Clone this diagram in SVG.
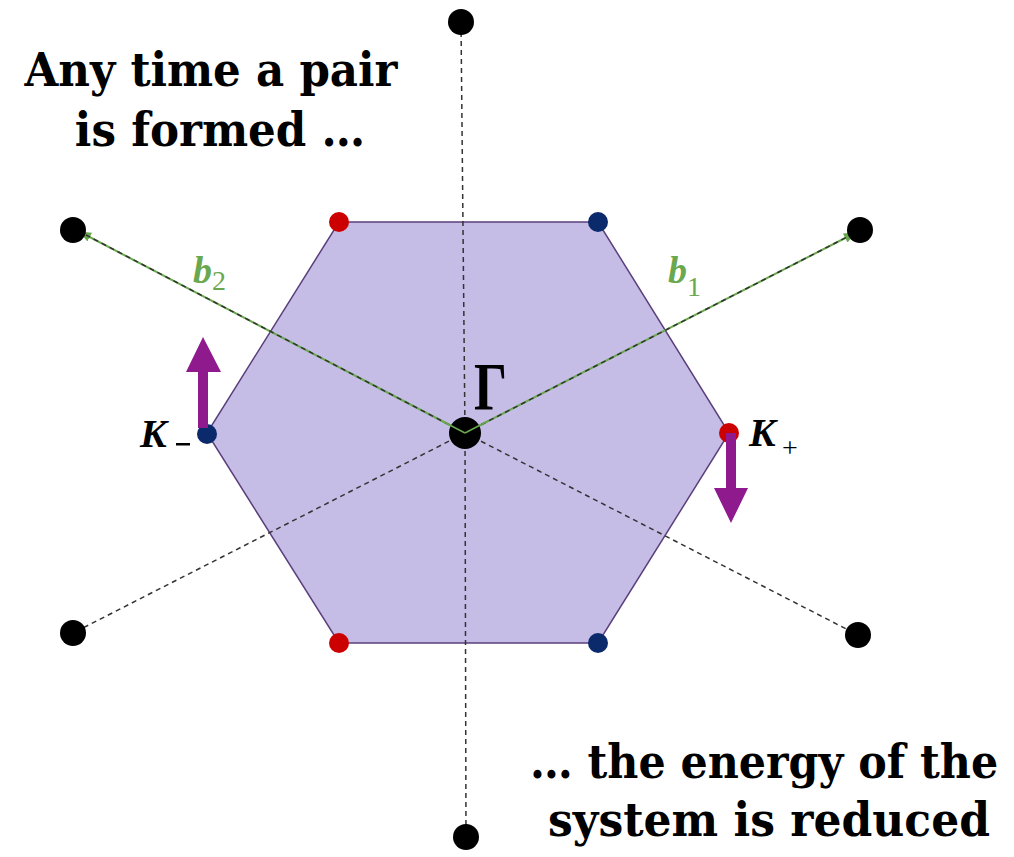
<svg xmlns="http://www.w3.org/2000/svg" width="1014" height="857" viewBox="0 0 1014 857">
<style>
.big{font-family:"DejaVu Serif","Liberation Serif",serif;font-weight:bold;font-size:46px;fill:#000}
.dash{stroke:#333;stroke-width:1.5;stroke-dasharray:5,4;fill:none}
.vec{stroke:#6aa84f;stroke-width:2;fill:none}
.lat{fill:#000}
.lab{font-family:"Liberation Serif",serif;font-weight:bold;font-style:italic}
</style>
<defs>
<marker id="gh" markerWidth="12" markerHeight="10" refX="11" refY="5" orient="auto" markerUnits="userSpaceOnUse">
<path d="M0,0 L12,5 L0,10 z" fill="#6aa84f"/>
</marker>
</defs>
<rect width="1014" height="857" fill="#fff"/>
<g id="zone">
<polygon points="339,222 598,222 729,433 598,643 339,643 207,433" fill="#c5bde6" stroke="#5b3f7c" stroke-width="1.5"/>
</g>
<g id="connectors">
<line class="dash" x1="465" y1="433" x2="461" y2="22"/>
<line class="dash" x1="465" y1="433" x2="466" y2="837"/>
<line class="dash" x1="465" y1="433" x2="73" y2="633"/>
<line class="dash" x1="465" y1="433" x2="858" y2="635"/>
<line class="vec" x1="465" y1="433" x2="80" y2="232" marker-end="url(#gh)"/>
<line class="vec" x1="465" y1="433" x2="855" y2="233" marker-end="url(#gh)"/>
<line class="dash" x1="465" y1="433" x2="86" y2="235" stroke-width="1"/>
<line class="dash" x1="465" y1="433" x2="849" y2="236" stroke-width="1"/>
</g>
<g id="lattice">
<circle class="lat" cx="461" cy="22" r="13"/>
<circle class="lat" cx="466" cy="837" r="13"/>
<circle class="lat" cx="73" cy="230" r="13"/>
<circle class="lat" cx="860" cy="230" r="13"/>
<circle class="lat" cx="73" cy="633" r="13"/>
<circle class="lat" cx="858" cy="635" r="13"/>
</g>
<g id="gamma">
<circle cx="465" cy="433" r="16" fill="#000"/>
<line x1="465" y1="433" x2="442" y2="421" stroke="#6aa84f" stroke-width="1.5"/>
<line x1="465" y1="433" x2="488" y2="421" stroke="#6aa84f" stroke-width="1.5"/>
<text x="474" y="409" font-family="Liberation Serif,serif" font-weight="bold" font-size="68" textLength="33" lengthAdjust="spacingAndGlyphs">Γ</text>
</g>
<g id="corners">
<circle cx="339" cy="222" r="10" fill="#cc0000"/>
<circle cx="598" cy="222" r="10" fill="#0b2a6b"/>
<circle cx="729" cy="433" r="10" fill="#cc0000"/>
<circle cx="207" cy="434" r="10" fill="#0b2a6b"/>
<circle cx="339" cy="643" r="10" fill="#cc0000"/>
<circle cx="598" cy="643" r="10" fill="#0b2a6b"/>
</g>
<g id="kminus">
<text class="lab" x="140" y="447" font-size="40">K</text>
<rect x="176" y="443" width="14" height="2.5" fill="#000"/>
<path d="M198,428 L198,372 L186,372 L203,337 L221,372 L208,372 L208,428 Z" fill="#8e1a8e"/>
</g>
<g id="kplus">
<text class="lab" x="749" y="446" font-size="40">K</text>
<text x="782" y="457" font-family="Liberation Serif,serif" font-size="28">+</text>
<path d="M726,433 L726,488 L714,488 L731,523 L748,488 L736,488 L736,433 Z" fill="#8e1a8e"/>
</g>
<g id="b2">
<text class="lab" x="193" y="283" font-size="38" fill="#6aa84f">b<tspan font-style="normal" font-weight="normal" font-size="28" dy="7">2</tspan></text>
</g>
<g id="b1">
<text class="lab" x="668" y="283" font-size="38" fill="#6aa84f">b<tspan font-style="normal" font-weight="normal" font-size="28" dy="13">1</tspan></text>
</g>
<g id="text-top">
<text class="big" transform="translate(211,86) scale(0.82,1)" text-anchor="middle" textLength="455" lengthAdjust="spacingAndGlyphs">Any time a pair</text>
<text class="big" transform="translate(220,146) scale(0.82,1)" text-anchor="middle" textLength="354" lengthAdjust="spacingAndGlyphs">is formed …</text>
</g>
<g id="text-bottom">
<text class="big" transform="translate(764,778) scale(0.82,1)" text-anchor="middle" textLength="571" lengthAdjust="spacingAndGlyphs">… the energy of the</text>
<text class="big" transform="translate(769,836) scale(0.82,1)" text-anchor="middle" textLength="539" lengthAdjust="spacingAndGlyphs">system is reduced</text>
</g>
</svg>
